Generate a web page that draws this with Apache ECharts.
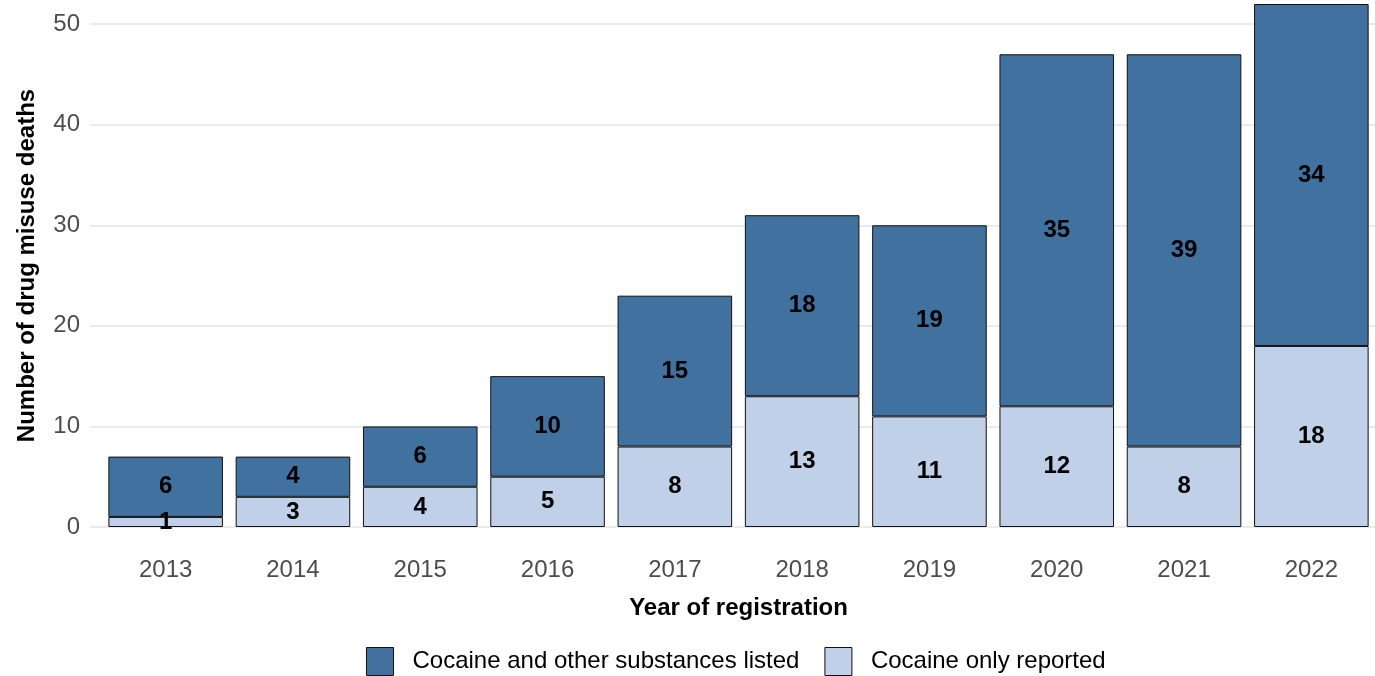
<!DOCTYPE html>
<html>
<head>
<meta charset="utf-8">
<script src="https://cdn.jsdelivr.net/npm/echarts@6/dist/echarts.min.js"></script>
<style>
  html, body { margin: 0; padding: 0; background: #fff; }
  #main { width: 1375px; height: 676px; }
</style>
</head>
<body>
<div id="main"></div>
<script>
// data
var years = ['2013', '2014', '2015', '2016', '2017', '2018', '2019', '2020', '2021', '2022'];
var cocaineOnly = [1, 3, 4, 5, 8, 13, 11, 12, 8, 18];
var cocaineOther = [6, 4, 6, 10, 15, 18, 19, 35, 39, 34];
var yTicks = [0, 10, 20, 30, 40, 50];

var nameOnly = 'Cocaine only reported';
var nameOther = 'Cocaine and other substances listed';

var FONT = '"Liberation Sans", Arial, sans-serif';
var chart = echarts.init(document.getElementById('main'));

var labelStyle = {
  show: true,
  position: 'inside',
  color: '#000',
  fontWeight: 'bold',
  fontSize: 24,
  fontFamily: FONT,
  padding: [4, 0, 0, 0]
};

var option = {
  backgroundColor: '#fff',
  animation: false,
  legend: {
    data: [nameOther, nameOnly],
    left: 366,
    top: 647,
    padding: 0,
    itemWidth: 27,
    itemHeight: 28,
    itemGap: 25,
    icon: 'rect',
    itemStyle: { borderColor: '#111', borderWidth: 1 },
    textStyle: { fontSize: 24, color: '#000', fontFamily: FONT, padding: [4, 0, 0, 14] }
  },
  grid: [
    // bars
    { left: 102, right: -1, top: 4, bottom: 149 },
    // panel for gridlines (ggplot expansion)
    { left: 90, right: -14, top: 4, bottom: 149 }
  ],
  xAxis: [
    {
      type: 'category',
      gridIndex: 0,
      data: years,
      axisLine: { show: false },
      axisTick: { show: false },
      axisLabel: { fontSize: 24, color: '#4d4d4d', fontFamily: FONT, margin: 31 },
      name: 'Year of registration',
      nameLocation: 'middle',
      nameGap: 69,
      nameTextStyle: { fontSize: 24, fontWeight: 'bold', color: '#000', fontFamily: FONT }
    },
    {
      type: 'value',
      gridIndex: 1,
      show: false,
      min: 0,
      max: 1
    }
  ],
  yAxis: [
    {
      type: 'value',
      gridIndex: 0,
      min: 0,
      max: 52,
      interval: 10,
      show: false
    },
    {
      type: 'value',
      gridIndex: 1,
      min: 0,
      max: 52,
      interval: 10,
      axisLine: { show: false },
      axisTick: { show: false },
      axisLabel: {
        fontSize: 24,
        color: '#4d4d4d',
        fontFamily: FONT,
        margin: 10,
        formatter: function (v) { return yTicks.indexOf(v) >= 0 ? String(v) : ''; }
      },
      splitLine: { show: true, showMaxLine: false, lineStyle: { color: '#ebebeb', width: 2 } },
      name: 'Number of drug misuse deaths',
      nameLocation: 'middle',
      nameRotate: 90,
      nameGap: 51,
      nameTextStyle: { fontSize: 24, fontWeight: 'bold', color: '#000', fontFamily: FONT }
    }
  ],
  series: [
    {
      name: nameOnly,
      type: 'bar',
      stack: 'total',
      xAxisIndex: 0,
      yAxisIndex: 0,
      barCategoryGap: '10%',
      data: cocaineOnly,
      itemStyle: { color: '#bfd0e8', borderColor: '#111', borderWidth: 1 },
      label: labelStyle,
      z: 3
    },
    {
      name: nameOther,
      type: 'bar',
      stack: 'total',
      xAxisIndex: 0,
      yAxisIndex: 0,
      barCategoryGap: '10%',
      data: cocaineOther,
      itemStyle: { color: '#41729f', borderColor: '#111', borderWidth: 1 },
      label: labelStyle,
      z: 3
    }
  ]
};

chart.setOption(option);
</script>
</body>
</html>
